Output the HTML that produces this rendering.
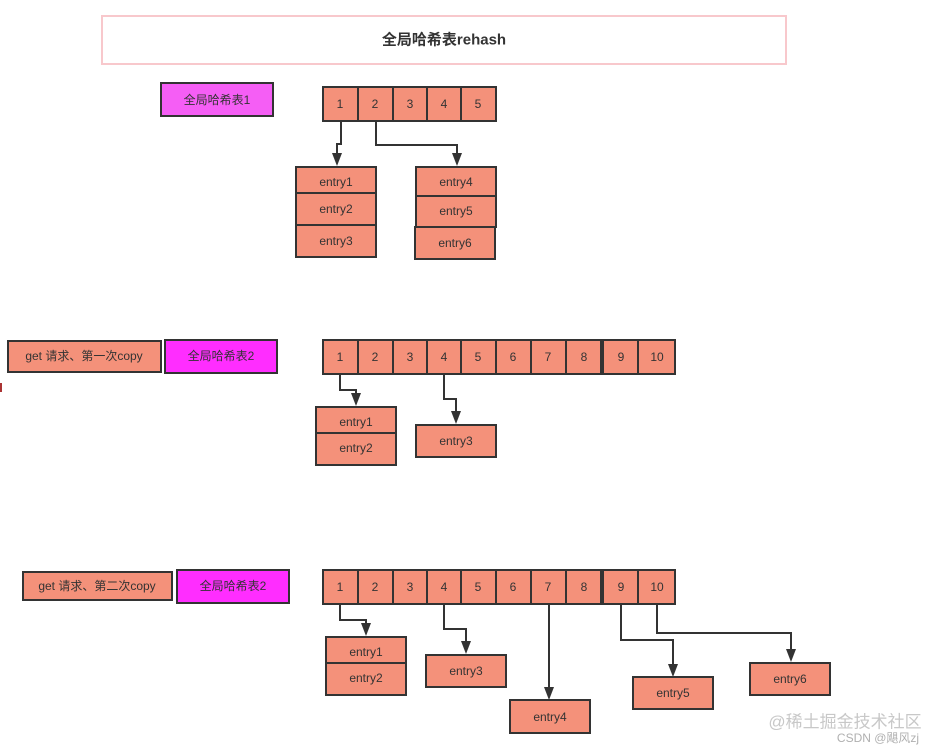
<!DOCTYPE html>
<html><head><meta charset="utf-8"><style>
html,body{margin:0;padding:0;background:#fff;width:947px;height:755px;overflow:hidden}
svg{display:block}
text{font-family:"Liberation Sans","Noto Sans CJK SC",sans-serif;font-size:12px;fill:#333;text-anchor:middle;dominant-baseline:central}
.b{fill:#f4917a;stroke:#333;stroke-width:2}
.l{fill:none;stroke:#333;stroke-width:2}
.a{fill:#333}
</style></head><body>
<svg width="947" height="755" viewBox="0 0 947 755">
<defs><marker id="m" markerWidth="8" markerHeight="10" refX="4" refY="9" orient="auto" markerUnits="userSpaceOnUse"><path d="M0,0 L8,0 L4,10 Z" class="a" transform="rotate(-90 4 5) rotate(90 4 5)"/></marker></defs>
<rect x="102" y="16" width="684" height="48" fill="#fff" stroke="#f8c8cc" stroke-width="2"/>
<text x="444" y="40" style="font-size:15px;font-weight:bold">全局哈希表rehash</text>

<!-- row1 -->
<rect x="161" y="83" width="112" height="33" fill="#f55ef5" stroke="#333" stroke-width="2"/>
<text x="217" y="100">全局哈希表1</text>
<g>
<rect class="b" x="323" y="87" width="35" height="34"/><text x="340" y="104">1</text>
<rect class="b" x="358" y="87" width="35" height="34"/><text x="375" y="104">2</text>
<rect class="b" x="393" y="87" width="34" height="34"/><text x="410" y="104">3</text>
<rect class="b" x="427" y="87" width="34" height="34"/><text x="444" y="104">4</text>
<rect class="b" x="461" y="87" width="35" height="34"/><text x="478" y="104">5</text>
</g>
<polyline class="l" points="341,121 341,144 337,144 337,156"/><path class="a" d="M332,153 L342,153 L337,166 Z"/>
<polyline class="l" points="376,121 376,145 457,145 457,156"/><path class="a" d="M452,153 L462,153 L457,166 Z"/>
<rect class="b" x="296" y="167" width="80" height="26"/><text x="336" y="182">entry1</text>
<rect class="b" x="296" y="193" width="80" height="32"/><text x="336" y="209">entry2</text>
<rect class="b" x="296" y="225" width="80" height="32"/><text x="336" y="241">entry3</text>
<rect class="b" x="416" y="167" width="80" height="29"/><text x="456" y="182">entry4</text>
<rect class="b" x="416" y="196" width="80" height="31"/><text x="456" y="211">entry5</text>
<rect class="b" x="415" y="227" width="80" height="32"/><text x="455" y="243">entry6</text>

<!-- row2 -->
<rect x="0" y="383" width="2" height="9" fill="#a33"/>
<rect class="b" x="8" y="341" width="153" height="31"/><text x="84" y="356">get 请求、第一次copy</text>
<rect x="165" y="340" width="112" height="33" fill="#ff2dff" stroke="#333" stroke-width="2"/>
<text x="221" y="356">全局哈希表2</text>
<g>
<rect class="b" x="323" y="340" width="35" height="34"/><text x="340" y="357">1</text>
<rect class="b" x="358" y="340" width="35" height="34"/><text x="375" y="357">2</text>
<rect class="b" x="393" y="340" width="34" height="34"/><text x="410" y="357">3</text>
<rect class="b" x="427" y="340" width="34" height="34"/><text x="444" y="357">4</text>
<rect class="b" x="461" y="340" width="35" height="34"/><text x="478" y="357">5</text>
<rect class="b" x="496" y="340" width="35" height="34"/><text x="513" y="357">6</text>
<rect class="b" x="531" y="340" width="35" height="34"/><text x="548" y="357">7</text>
<rect class="b" x="566" y="340" width="35" height="34"/><text x="584" y="357">8</text>
<rect class="b" x="603" y="340" width="35" height="34"/><text x="621" y="357">9</text>
<rect class="b" x="638" y="340" width="37" height="34"/><text x="657" y="357">10</text>
</g>
<polyline class="l" points="340,374 340,390 356,390 356,396"/><path class="a" d="M351,393 L361,393 L356,406 Z"/>
<polyline class="l" points="444,374 444,399 456,399 456,414"/><path class="a" d="M451,411 L461,411 L456,424 Z"/>
<rect class="b" x="316" y="407" width="80" height="26"/><text x="356" y="422">entry1</text>
<rect class="b" x="316" y="433" width="80" height="32"/><text x="356" y="448">entry2</text>
<rect class="b" x="416" y="425" width="80" height="32"/><text x="456" y="441">entry3</text>

<!-- row3 -->
<rect class="b" x="23" y="572" width="149" height="28"/><text x="97" y="586">get 请求、第二次copy</text>
<rect x="177" y="570" width="112" height="33" fill="#ff2dff" stroke="#333" stroke-width="2"/>
<text x="233" y="586">全局哈希表2</text>
<g>
<rect class="b" x="323" y="570" width="35" height="34"/><text x="340" y="587">1</text>
<rect class="b" x="358" y="570" width="35" height="34"/><text x="375" y="587">2</text>
<rect class="b" x="393" y="570" width="34" height="34"/><text x="410" y="587">3</text>
<rect class="b" x="427" y="570" width="34" height="34"/><text x="444" y="587">4</text>
<rect class="b" x="461" y="570" width="35" height="34"/><text x="478" y="587">5</text>
<rect class="b" x="496" y="570" width="35" height="34"/><text x="513" y="587">6</text>
<rect class="b" x="531" y="570" width="35" height="34"/><text x="548" y="587">7</text>
<rect class="b" x="566" y="570" width="35" height="34"/><text x="584" y="587">8</text>
<rect class="b" x="603" y="570" width="35" height="34"/><text x="621" y="587">9</text>
<rect class="b" x="638" y="570" width="37" height="34"/><text x="657" y="587">10</text>
</g>
<polyline class="l" points="340,604 340,620 366,620 366,626"/><path class="a" d="M361,623 L371,623 L366,636 Z"/>
<polyline class="l" points="444,604 444,629 466,629 466,644"/><path class="a" d="M461,641 L471,641 L466,654 Z"/>
<polyline class="l" points="549,604 549,690"/><path class="a" d="M544,687 L554,687 L549,700 Z"/>
<polyline class="l" points="621,604 621,640 673,640 673,667"/><path class="a" d="M668,664 L678,664 L673,677 Z"/>
<polyline class="l" points="657,604 657,633 791,633 791,652"/><path class="a" d="M786,649 L796,649 L791,662 Z"/>
<rect class="b" x="326" y="637" width="80" height="26"/><text x="366" y="652">entry1</text>
<rect class="b" x="326" y="663" width="80" height="32"/><text x="366" y="678">entry2</text>
<rect class="b" x="426" y="655" width="80" height="32"/><text x="466" y="671">entry3</text>
<rect class="b" x="510" y="700" width="80" height="33"/><text x="550" y="717">entry4</text>
<rect class="b" x="633" y="677" width="80" height="32"/><text x="673" y="693">entry5</text>
<rect class="b" x="750" y="663" width="80" height="32"/><text x="790" y="679">entry6</text>

<text x="845" y="722" style="font-size:17px;fill:#c8c8c8">@稀土掘金技术社区</text>
<text x="878" y="738" style="font-size:12px;fill:#b0b0b0">CSDN @飓风zj</text>
</svg>
</body></html>
